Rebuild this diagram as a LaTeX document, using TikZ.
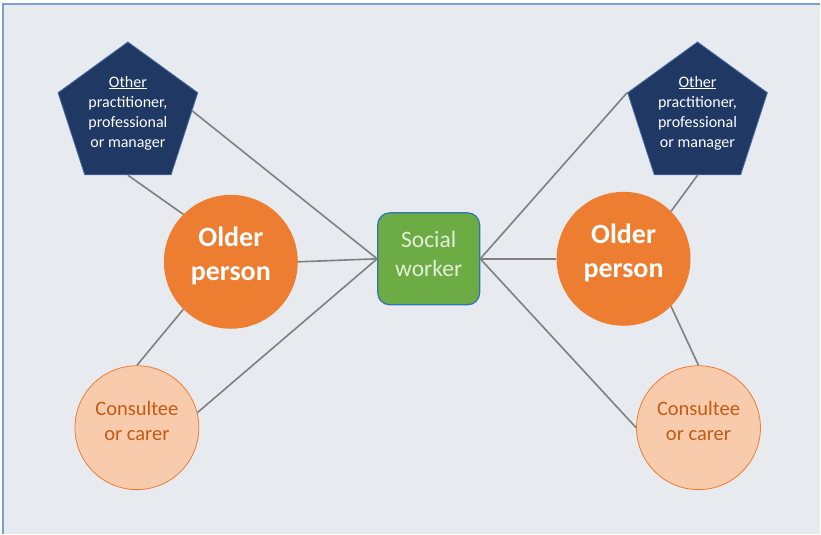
\documentclass[tikz,border=0pt]{standalone}
\usepackage{fontspec}
\setmainfont{Carlito}
\usetikzlibrary{shapes.geometric}
\definecolor{panel}{HTML}{E7EBEF}
\definecolor{frame}{HTML}{7C9DD6}
\definecolor{navy}{HTML}{203864}
\definecolor{navyedge}{HTML}{4A6FA8}
\definecolor{olderorange}{HTML}{ED7D31}
\definecolor{carerpeach}{HTML}{F8CBAD}
\definecolor{carertext}{HTML}{C55A11}
\definecolor{workergreen}{HTML}{6DAB45}
\definecolor{workeredge}{HTML}{2E75B6}
\definecolor{workertext}{HTML}{E2F0D9}
\definecolor{linegrey}{HTML}{7F7F7F}
\newcommand{\liftlines}[2]{\raisebox{#1}[\height][\depth]{\begin{tabular}{@{}c@{}}#2\end{tabular}}}

\begin{document}
\begin{tikzpicture}[
        x=1pt,
        y=-1pt,
        link/.style={draw=linegrey, line width=1.6pt},
        other/.style={regular polygon, regular polygon sides=5, minimum size=147pt,
            inner sep=0pt, fill=navy, draw=navyedge, line width=0.8pt,
            text=white, font=\fontsize{16}{20.3}\selectfont},
        older/.style={circle, minimum size=134pt, inner sep=0pt, fill=olderorange,
            text=white, font=\bfseries\fontsize{28}{34}\selectfont},
        carer/.style={circle, minimum size=124pt, inner sep=0pt, fill=carerpeach,
            draw=olderorange, line width=0.8pt, text=carertext,
            font=\fontsize{20.5}{25}\selectfont},
        worker/.style={rectangle, rounded corners=12pt, minimum width=102pt,
            minimum height=92pt, fill=workergreen, draw=workeredge, line width=1.2pt,
            text=workertext, font=\fontsize{23.5}{29}\selectfont}
    ]
    \fill[white] (0,0) rectangle (821,534);
    \fill[panel] (3,4) rectangle (821,534);
    \draw[frame, line width=1.2pt] (821,4) -- (3,4) -- (3,534);

    \node[other] (otherL) at (128,115.5) {\liftlines{2pt}{\underline{Other}\\practitioner,\\professional\\or manager}};
    \node[other] (otherR) at (698,115.5) {\liftlines{2pt}{\underline{Other}\\practitioner,\\professional\\or manager}};
    \node[older] (olderL) at (231,262) {\liftlines{5pt}{Older\\person}};
    \node[older] (olderR) at (624,259) {\liftlines{5pt}{Older\\person}};
    \node[carer] (carerL) at (137,428) {\liftlines{5pt}{Consultee\\or carer}};
    \node[carer] (carerR) at (699,428) {\liftlines{5pt}{Consultee\\or carer}};
    \node[worker] (social) at (429,259) {\liftlines{3pt}{Social\\worker}};

    \draw[link] (otherL.4) -- (social.west);
    \draw[link] (otherL.south) -- (olderL.135);
    \draw[link] (olderL.east) -- (social.west);
    \draw[link] (olderL.225) -- (carerL.north);
    \draw[link] (carerL.14) -- (social.west);

    \draw[link] (social.east) -- (otherR.corner 2);
    \draw[link] (social.east) -- (olderR.west);
    \draw[link] (social.east) -- (carerR.west);
    \draw[link] (otherR.south) -- (olderR.45);
    \draw[link] (olderR.-45) -- (carerR.north);
\end{tikzpicture}
\end{document}
